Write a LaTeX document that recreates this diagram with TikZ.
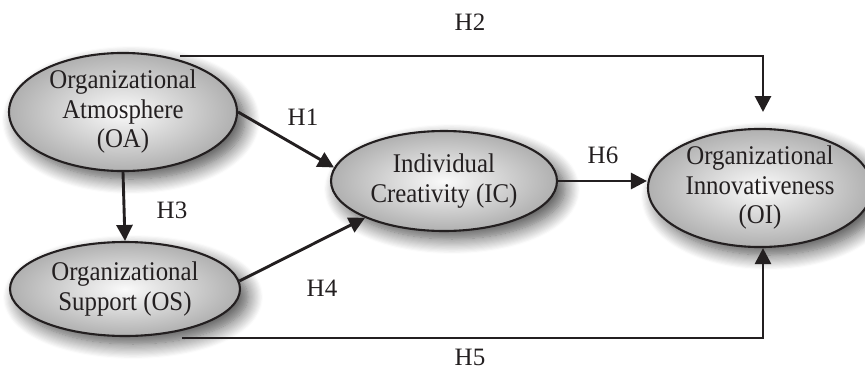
\documentclass[tikz,border=0pt]{standalone}
\usepackage{fontspec}
\setmainfont[FakeStretch=0.92]{Liberation Serif}
\newfontfamily\labelfont{Liberation Serif}
\usetikzlibrary{arrows.meta,shapes.geometric,shadows.blur}
\definecolor{ink}{HTML}{231F20}
\tikzset{
  construct/.style={ellipse, draw=ink, line width=2.1pt, inner sep=0pt,
    inner color=gray!4, outer color=gray!62, align=center,
    font=\fontsize{27}{29.5}\selectfont, text=ink,
    blur shadow={shadow xshift=8pt, shadow yshift=-8pt, shadow blur steps=14,
      shadow blur radius=15pt, shadow opacity=70}},
  link/.style={draw=ink, line width=2.9pt,
    -{Triangle[length=16pt,width=16pt]}},
  hyp/.style={font=\labelfont\fontsize{25}{29}\selectfont, text=ink, inner sep=0pt}
}
\begin{document}
\begin{tikzpicture}[x=1pt,y=-1pt]
\useasboundingbox (0,0) rectangle (865,370);

% constructs
\node[construct, minimum width=228pt, minimum height=108pt] (oa) at (123,112)
  {Organizational\\Atmosphere\\(OA)};
\node[construct, minimum width=230pt, minimum height=94pt] (os) at (125,289)
  {Organizational\\Support (OS)};
\node[construct, minimum width=226pt, minimum height=100pt] (ic) at (444,181)
  {Individual\\Creativity (IC)};
\node[construct, minimum width=224pt, minimum height=114pt] (oi) at (760,188)
  {Organizational\\Innovativeness\\(OI)};

% free ends of the two long paths
\coordinate (h2s) at (180,56);
\coordinate (h2e) at (763,112);
\coordinate (h5s) at (182,338);

% hypotheses
\draw[link] (h2s) -| (h2e);
\draw[link] (oa.east) -- (ic.173);
\draw[link] (oa.south) -- (os.north);
\draw[link] (os.4) -- (ic.205);
\draw[link] (ic.east) -- (ic.east -| oi.west);
\draw[link] (h5s) -| ([xshift=3pt]oi.south);

% labels
\node[hyp] (lh2) at (470,22) {H2};
\node[hyp] (lh1) at (303,117) {H1};
\node[hyp] (lh3) at (172,210) {H3};
\node[hyp] (lh4) at (322,288) {H4};
\node[hyp] (lh6) at (603,155) {H6};
\node[hyp] (lh5) at (470,357) {H5};
\end{tikzpicture}
\end{document}
